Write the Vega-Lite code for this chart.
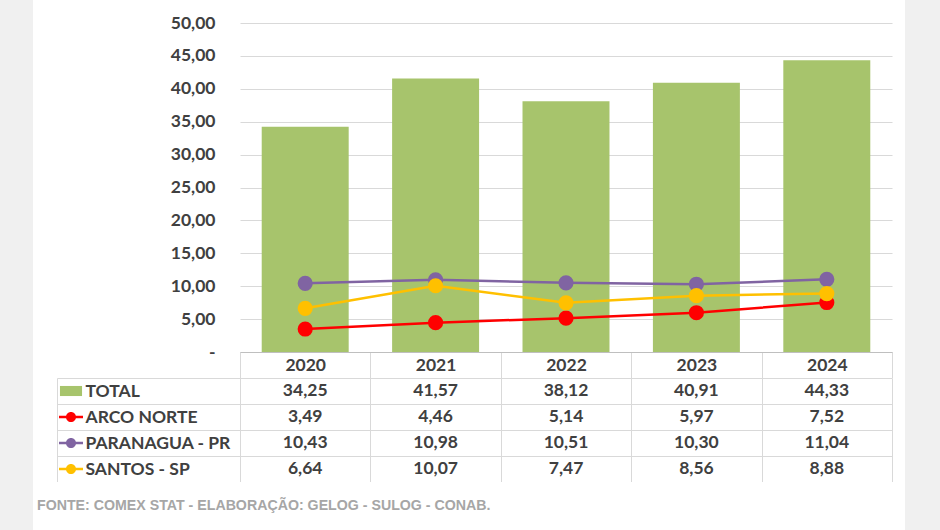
{
  "$schema": "https://vega.github.io/schema/vega-lite/v6.json",
  "background": "#f0f0f0",
  "padding": {"left": 33, "right": 35, "top": 0, "bottom": 0},
  "datasets": {
    "port": [
      {"year": "2020", "series": "TOTAL", "value": 34.25},
      {"year": "2021", "series": "TOTAL", "value": 41.57},
      {"year": "2022", "series": "TOTAL", "value": 38.12},
      {"year": "2023", "series": "TOTAL", "value": 40.91},
      {"year": "2024", "series": "TOTAL", "value": 44.33},
      {"year": "2020", "series": "ARCO NORTE", "value": 3.49},
      {"year": "2021", "series": "ARCO NORTE", "value": 4.46},
      {"year": "2022", "series": "ARCO NORTE", "value": 5.14},
      {"year": "2023", "series": "ARCO NORTE", "value": 5.97},
      {"year": "2024", "series": "ARCO NORTE", "value": 7.52},
      {"year": "2020", "series": "PARANAGUA - PR", "value": 10.43},
      {"year": "2021", "series": "PARANAGUA - PR", "value": 10.98},
      {"year": "2022", "series": "PARANAGUA - PR", "value": 10.51},
      {"year": "2023", "series": "PARANAGUA - PR", "value": 10.30},
      {"year": "2024", "series": "PARANAGUA - PR", "value": 11.04},
      {"year": "2020", "series": "SANTOS - SP", "value": 6.64},
      {"year": "2021", "series": "SANTOS - SP", "value": 10.07},
      {"year": "2022", "series": "SANTOS - SP", "value": 7.47},
      {"year": "2023", "series": "SANTOS - SP", "value": 8.56},
      {"year": "2024", "series": "SANTOS - SP", "value": 8.88}
    ],
    "blank": [{}]
  },
  "config": {
    "view": {"fill": "white", "stroke": null},
    "locale": {"number": {"decimal": ",", "thousands": ".", "grouping": [3], "currency": ["R$", ""]}},
    "axis": {"labelFont": "Lato", "labelFontWeight": "bold", "labelFontSize": 17.5, "labelColor": "#404040", "title": null}
  },
  "spacing": 0,
  "bounds": "flush",
  "vconcat": [
    {
      "width": 872,
      "height": 378,
      "data": {"name": "port"},
      "encoding": {
        "x": {
          "field": "year", "type": "ordinal",
          "scale": {"type": "band", "range": [207, 859], "paddingInner": 0, "paddingOuter": 0},
          "axis": {"orient": "bottom", "offset": -26, "domain": true, "domainColor": "#bfbfbf", "domainWidth": 1,
                   "ticks": true, "tickBand": "extent", "tickSize": 26, "tickColor": "#d9d9d9",
                   "labelPadding": -13, "labelBaseline": "middle", "labelAngle": 0, "grid": false}
        },
        "y": {
          "field": "value", "type": "quantitative",
          "scale": {"domain": [0, 50], "range": [352, 23], "nice": false},
          "axis": {"values": [0, 5, 10, 15, 20, 25, 30, 35, 40, 45, 50],
                   "labelExpr": "datum.value === 0 ? '-\u00a0\u00a0\u00a0' : format(datum.value, ',.2f')",
                   "labelOverlap": false,
                   "grid": true, "gridColor": "#d9d9d9", "domain": false, "ticks": false, "tickSize": 0,
                   "labelPadding": -182, "labelAlign": "right"}
        },
        "color": {"field": "series", "type": "nominal",
                  "scale": {"domain": ["TOTAL", "ARCO NORTE", "PARANAGUA - PR", "SANTOS - SP"],
                            "range": ["#a7c46c", "#ff0000", "#8064a2", "#ffc000"]},
                  "legend": null}
      },
      "layer": [
        {
          "transform": [{"filter": "datum.series === 'TOTAL'"}],
          "mark": {"type": "bar", "width": {"band": 0.667}}
        },
        {
          "transform": [{"filter": "datum.series !== 'TOTAL'"}],
          "mark": {"type": "line", "strokeWidth": 2.5}
        },
        {
          "transform": [{"filter": "datum.series !== 'TOTAL'"}],
          "mark": {"type": "point", "filled": true, "size": 230, "opacity": 1, "strokeWidth": 0}
        }
      ]
    },
    {
      "width": 872,
      "height": 104,
      "resolve": {"scale": {"x": "independent"}},
      "layer": [
        {
          "data": {"name": "port"},
          "mark": {"type": "text", "font": "Lato", "fontWeight": "bold", "fontSize": 17.5, "color": "#404040", "baseline": "middle"},
          "encoding": {
            "x": {"field": "year", "type": "ordinal",
                  "scale": {"type": "band", "range": [207, 859], "paddingInner": 0, "paddingOuter": 0},
                  "axis": {"grid": true, "gridColor": "#d9d9d9", "tickBand": "extent", "ticks": false, "labels": false, "domain": false}},
            "y": {"field": "series", "type": "nominal",
                  "scale": {"type": "band", "domain": ["TOTAL", "ARCO NORTE", "PARANAGUA - PR", "SANTOS - SP"], "paddingInner": 0, "paddingOuter": 0},
                  "axis": {"orient": "left", "offset": -24, "domain": true, "domainColor": "#d9d9d9",
                           "ticks": true, "tickBand": "extent", "tickSize": -835, "tickColor": "#d9d9d9",
                           "labelPadding": 807, "labelAlign": "left", "labelBaseline": "middle", "labelLimit": 0, "grid": false}},
            "text": {"field": "value", "type": "quantitative", "format": ",.2f"}
          }
        },
        {
          "data": {"name": "port"},
          "transform": [{"filter": "datum.year === '2020'"}],
          "mark": {"type": "point", "filled": true, "opacity": 1, "size": 576, "strokeWidth": 0},
          "encoding": {
            "x": {"datum": "sym", "type": "nominal", "scale": {"type": "band", "range": [24, 52], "paddingInner": 0, "paddingOuter": 0}, "axis": null},
            "y": {"field": "series", "type": "nominal",
                  "axis": {"orient": "left", "offset": -24, "domain": true, "domainColor": "#d9d9d9",
                           "ticks": true, "tickBand": "extent", "tickSize": -835, "tickColor": "#d9d9d9",
                           "labelPadding": 807, "labelAlign": "left", "labelBaseline": "middle", "labelLimit": 0, "grid": false}},
            "shape": {"field": "series", "type": "nominal",
                      "scale": {"domain": ["TOTAL", "ARCO NORTE", "PARANAGUA - PR", "SANTOS - SP"],
                                "range": ["M-0.92,-0.42H0.92V0.42H-0.92Z",
                                          "M-1,-0.1H1V0.1H-1Z M0.42,0A0.42,0.42,0,1,1,-0.42,0A0.42,0.42,0,1,1,0.42,0Z",
                                          "M-1,-0.1H1V0.1H-1Z M0.42,0A0.42,0.42,0,1,1,-0.42,0A0.42,0.42,0,1,1,0.42,0Z",
                                          "M-1,-0.1H1V0.1H-1Z M0.42,0A0.42,0.42,0,1,1,-0.42,0A0.42,0.42,0,1,1,0.42,0Z"]},
                      "legend": null},
            "color": {"field": "series", "type": "nominal",
                      "scale": {"domain": ["TOTAL", "ARCO NORTE", "PARANAGUA - PR", "SANTOS - SP"],
                                "range": ["#a7c46c", "#ff0000", "#8064a2", "#ffc000"]},
                      "legend": null}
          }
        }
      ]
    },
    {
      "width": 872,
      "height": 48,
      "data": {"name": "blank"},
      "mark": {"type": "text", "text": "FONTE: COMEX STAT - ELABORAÇÃO: GELOG - SULOG - CONAB.", "align": "left", "baseline": "middle",
               "font": "Liberation Sans", "fontWeight": "bold", "fontSize": 14.2, "color": "#a6a6a6"},
      "encoding": {
        "x": {"datum": "f", "type": "nominal", "scale": {"type": "band", "range": [0, 8], "paddingInner": 0, "paddingOuter": 0}, "axis": null}
      }
    }
  ]
}
